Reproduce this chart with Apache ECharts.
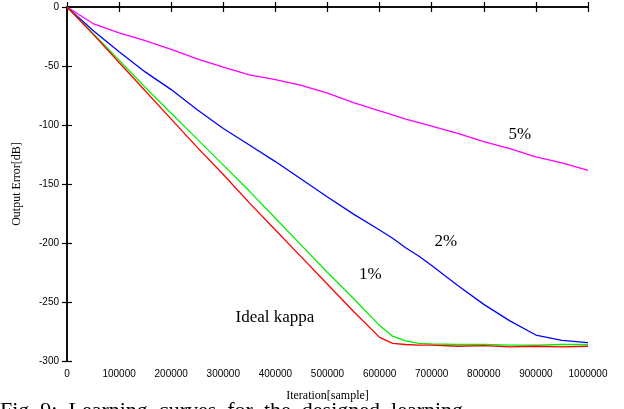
<!DOCTYPE html>
<html><head><meta charset="utf-8">
<script src="https://cdn.jsdelivr.net/npm/echarts@6/dist/echarts.min.js"></script>
<style>html,body{margin:0;padding:0;background:#fff}#c{width:624px;height:409px}</style>
</head><body><div id="c"></div>
<script>
const iterations = [0,50000,100000,150000,200000,250000,300000,350000,400000,450000,500000,550000,600000,625000,650000,675000,700000,750000,800000,850000,900000,950000,1000000];
const idealKappa = [0,-23,-47,-71,-95,-119,-142,-166,-189,-212,-235,-258,-280,-285,-286,-286.5,-286.5,-287.5,-287,-288,-287.5,-288,-287.5];
const err1 = [0,-22.5,-45,-68,-90,-112,-134,-156,-179,-202,-225,-247,-270,-279,-283,-285,-285.5,-286,-286,-286.5,-286.5,-286,-286];
const err2 = [0,-20,-38,-55,-70,-87,-103,-117,-131,-146,-161,-175.5,-189,-196,-204,-211,-219,-236,-252,-266,-278,-282.5,-284.5];
const err5 = [0,-14,-22,-28.5,-36,-44,-51,-57.5,-61.5,-66.5,-73,-81,-88,-91.5,-95,-98,-101,-107,-114,-120,-127,-132,-138.5];
const xTicks = [0,100000,200000,300000,400000,500000,600000,700000,800000,900000,1000000];
const yTicks = [0,-50,-100,-150,-200,-250,-300];
const labels = [
  {name:'5%', coord:[869000,-108.5]},
  {name:'2%', coord:[727000,-199]},
  {name:'1%', coord:[582000,-227]},
  {name:'Ideal kappa', coord:[399000,-263.5]}
];
const pairs = arr => iterations.map((x,i)=>[x,arr[i]]);
const serif = '"Liberation Serif", "Times New Roman", serif';
const sans = '"Liberation Sans", Arial, sans-serif';
const chart = echarts.init(document.getElementById('c'), null, {renderer:'canvas'});
const axisLine = {show:true, lineStyle:{color:'#000', width:1.5}};
const tick = {show:true, inside:true, length:5, lineStyle:{color:'#000', width:1.2}};
function mkSeries(name, arr, color, withLabels){
  const s = {name, type:'line', data:pairs(arr), showSymbol:false, symbol:'none',
    lineStyle:{color, width:1.3}, itemStyle:{color}, animation:false, z:3};
  if(withLabels){
    s.markPoint = {symbol:'circle', symbolSize:0, animation:false,
      label:{show:true, position:'inside', formatter:p=>p.name, color:'#000', fontFamily:serif, fontSize:17},
      data: labels.map(l=>({name:l.name, coord:l.coord}))};
  }
  return s;
}
chart.setOption({
  animation:false,
  backgroundColor:'#fff',
  grid:{left:67, right:36, top:7, bottom:48, containLabel:false},
  xAxis:[
    {type:'value', min:0, max:1000000, interval:100000, position:'bottom',
     name:'Iteration[sample]', nameLocation:'middle', nameGap:29,
     nameTextStyle:{fontFamily:serif, fontSize:12, color:'#000'},
     axisLine, axisTick:tick, splitLine:{show:false},
     axisLabel:{color:'#000', fontFamily:sans, fontSize:10, margin:8,
       customValues: xTicks, formatter:v=>String(v)}},
    {type:'value', min:0, max:1000000, interval:100000, position:'top',
     axisLine, axisTick:tick, axisLabel:{show:false}, splitLine:{show:false}}
  ],
  yAxis:[
    {type:'value', min:-300, max:0, interval:50, position:'left',
     name:'Output Error[dB]', nameLocation:'middle', nameGap:44, nameRotate:90,
     nameTextStyle:{fontFamily:serif, fontSize:12, color:'#000'},
     axisLine, axisTick:tick, splitLine:{show:false},
     axisLabel:{color:'#000', fontFamily:sans, fontSize:10, margin:8,
       customValues: yTicks, formatter:v=>String(v)}},
    {type:'value', min:-300, max:0, interval:50, position:'right',
     axisLine, axisTick:tick, axisLabel:{show:false}, splitLine:{show:false}}
  ],
  series:[
    mkSeries('5%', err5, '#ff00ff', false),
    mkSeries('2%', err2, '#0000ff', false),
    mkSeries('1%', err1, '#00ee00', false),
    mkSeries('Ideal kappa', idealKappa, '#ff0000', true)
  ],
  graphic:[
    {type:'text', left:0, top:400, silent:true,
     style:{text:'Fig. 9:  Learning  curves  for  the  designed  learning', font:'22px "Liberation Serif", serif', fill:'#000'}}
  ]
});
</script></body></html>
